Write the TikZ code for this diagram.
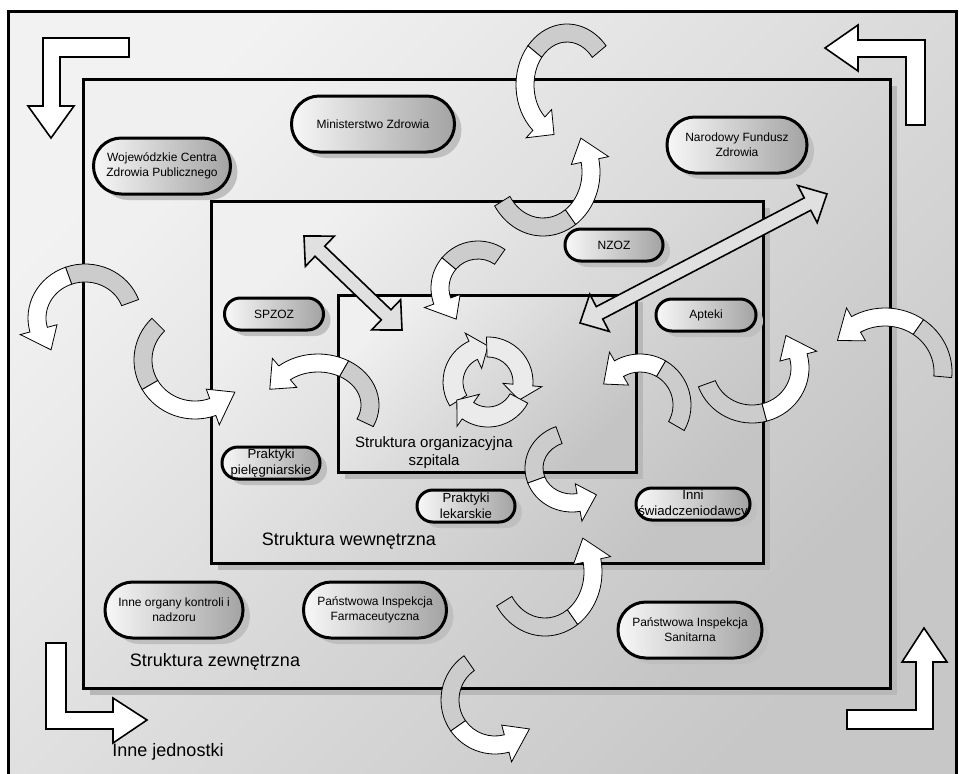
\documentclass[tikz,border=0pt]{standalone}
\usepackage{fontspec}
\setmainfont{Liberation Sans}
\usetikzlibrary{calc,shadows}

\tikzset{
  panel/.style={draw=black, line width=1.5pt, top color=white!94!black,
    bottom color=white!77!black, shading angle=45,
    drop shadow={shadow xshift=3.5pt, shadow yshift=-3.5pt, fill=black!28, opacity=1}},
  unit/.style={draw=black, line width=1.5pt, inner sep=0pt, align=center,
    left color=white!97!black, right color=white!64!black,
    drop shadow={shadow xshift=3.5pt, shadow yshift=-3pt, fill=black!25, opacity=1},
    font=\fontsize{6}{7.5}\selectfont},
  bigunit/.style={unit, rounded corners=13.9pt, minimum height=28pt},
  smallunit/.style={unit, rounded corners=7.9pt, minimum height=16pt},
  practice/.style={smallunit, font=\fontsize{6.6}{7.8}\selectfont},
  cornerarrow/.style={draw=black, fill=white, line width=0.8pt},
  twoway/.style={draw=black, fill=white!88!black, line width=0.8pt},
  ribbonback/.style={draw=black, fill=white!80!black, line width=0.4pt},
  ribbonfront/.style={draw=black, fill=white, line width=0.4pt},
  cyclearrow/.style={draw=black, fill=white!92!black, line width=0.4pt},
  caption/.style={font=\fontsize{9}{10.8}\selectfont}
}

% straight arrow with two heads: start, angle, length
\newcommand{\dblarrow}[3]{%
  \begin{scope}[shift={(#1)}, rotate=#2]
    \draw[twoway] (0,0) -- (22,21) -- (22,7) -- ({#3-22},7) -- ({#3-22},21)
      -- (#3,0) -- ({#3-22},-21) -- ({#3-22},-7) -- (22,-7) -- (22,-21) -- cycle;
  \end{scope}}

% curved ribbon arrow: centre, x radius, y radius, tail, twist, head, tip
\newcommand{\bentarrow}[7]{%
  \draw[ribbonback] ($(#1)+({(#2+9)*cos(#4)},{(#3+9)*sin(#4)})$)
    arc[start angle=#4, end angle=#5, x radius=#2+9, y radius=#3+9]
    -- ($(#1)+({(#2-9)*cos(#5)},{(#3-9)*sin(#5)})$)
    arc[start angle=#5, end angle=#4, x radius=#2-9, y radius=#3-9] -- cycle;
  \draw[ribbonfront] ($(#1)+({(#2+9)*cos(#5)},{(#3+9)*sin(#5)})$)
    arc[start angle=#5, end angle=#6, x radius=#2+9, y radius=#3+9]
    -- ($(#1)+({(#2+19)*cos(#6)},{(#3+19)*sin(#6)})$)
    -- ($(#1)+({#2*cos(#7)},{#3*sin(#7)})$)
    -- ($(#1)+({(#2-19)*cos(#6)},{(#3-19)*sin(#6)})$)
    -- ($(#1)+({(#2-9)*cos(#6)},{(#3-9)*sin(#6)})$)
    arc[start angle=#6, end angle=#5, x radius=#2-9, y radius=#3-9] -- cycle;}

\begin{document}
\begin{tikzpicture}[x=0.5pt, y=0.5pt]
  % page
  \clip (0,0) rectangle (959,-773);
  \fill[white] (0,0) rectangle (959,-773);

  % outer frame
  \draw[line width=1.5pt, top color=white!95!black, bottom color=white!78!black,
    shading angle=45] (8,-11) rectangle (956,-790);

  % corner arrows
  \draw[cornerarrow] (43,-38) -- (129,-38) -- (129,-57) -- (60,-57) -- (60,-106)
    -- (74,-106) -- (51,-138) -- (28,-106) -- (43,-106) -- cycle;
  \draw[cornerarrow] (925,-125) -- (925,-40) -- (858,-40) -- (858,-25) -- (825,-48)
    -- (858,-71) -- (858,-57) -- (906,-57) -- (906,-125) -- cycle;
  \draw[cornerarrow] (46,-643) -- (66,-643) -- (66,-712) -- (113,-712) -- (113,-698)
    -- (147,-720) -- (113,-743) -- (113,-729) -- (46,-729) -- cycle;
  \draw[cornerarrow] (847,-710) -- (916,-710) -- (916,-662) -- (902,-662) -- (924,-628)
    -- (947,-662) -- (933,-662) -- (933,-729) -- (847,-729) -- cycle;

  % structures
  \draw[panel] (83,-79) rectangle (890,-688);
  \draw[panel] (211,-201) rectangle (763,-563);
  \draw[panel] (338,-295) rectangle (636,-472);

  % units
  \node[bigunit, minimum width=68.5pt] (wczp) at (162,-166) {Wojewódzkie Centra\\Zdrowia Publicznego};
  \node[bigunit, minimum width=81.5pt] (mz) at (373,-124) {Ministerstwo Zdrowia};
  \node[bigunit, minimum width=70pt] (nfz) at (737,-145) {Narodowy Fundusz\\Zdrowia};
  \node[smallunit, minimum width=49pt] (nzoz) at (614,-245) {NZOZ};
  \node[smallunit, minimum width=49.5pt] (spzoz) at (274,-314) {SPZOZ};
  \node[smallunit, minimum width=50pt] (apteki) at (706,-315) {Apteki};
  \node[practice, minimum width=49pt] (ppiel) at (271,-463) {Praktyki\\pielęgniarskie};
  \node[practice, minimum width=49pt] (plek) at (466,-506) {Praktyki\\lekarskie};
  \node[practice, minimum width=57pt] (inni) at (693,-504) {Inni\\świadczeniodawcy};
  \node[bigunit, minimum width=69pt] (iokn) at (174,-610) {Inne organy kontroli i\\nadzoru};
  \node[bigunit, minimum width=71.5pt] (pif) at (375,-610) {Państwowa Inspekcja\\Farmaceutyczna};
  \node[bigunit, minimum width=72pt] (pis) at (690,-630) {Państwowa Inspekcja\\Sanitarna};

  % captions
  \node[font=\fontsize{7.5}{9}\selectfont, align=center] (lorg) at (434,-453) {Struktura organizacyjna\\szpitala};
  \node[caption] (lwew) at (349,-541) {Struktura wewnętrzna};
  \node[caption] (lzew) at (215,-662) {Struktura zewnętrzna};
  \node[caption] (linne) at (168,-752) {Inne jednostki};

  % two-way arrows
  \dblarrow{304,-236}{-43.8}{135.8}
  \dblarrow{580,-323}{27.6}{278.7}

  % cycle in the hospital
  \coordinate (cyc) at (488,-382);
  \foreach \t in {90,-30,210}
    \draw[cyclearrow] ($(cyc)+({\t+122}:45)$) arc[start angle=\t+122, end angle=\t+25, radius=45]
      -- ($(cyc)+({\t+25}:54)$) -- ($(cyc)+(\t:36)$) -- ($(cyc)+({\t+25}:15)$)
      -- ($(cyc)+({\t+25}:25)$) arc[start angle=\t+25, end angle=\t+122, radius=25] -- cycle;

  % flows between levels
  \bentarrow{567,-85}{42}{52}{40}{140}{228}{252}
  \bentarrow{543,-172}{48}{55}{212}{305}{372}{398}
  \bentarrow{478,-288}{38}{38}{55}{140}{200}{235}
  \bentarrow{85,-318}{48}{45}{20}{110}{195}{225}
  \bentarrow{195,-360}{52}{50}{135}{210}{290}{320}
  \bentarrow{318,-405}{52}{42}{-25}{60}{130}{158}
  \bentarrow{640,-405}{42}{42}{-30}{60}{120}{150}
  \bentarrow{752,-368}{48}{46}{200}{285}{375}{405}
  \bentarrow{885,-372}{58}{55}{-5}{55}{120}{145}
  \bentarrow{572,-468}{38}{35}{110}{200}{280}{310}
  \bentarrow{545,-572}{48}{55}{212}{305}{372}{398}
  \bentarrow{495,-700}{45}{45}{125}{215}{285}{320}
\end{tikzpicture}
\end{document}
